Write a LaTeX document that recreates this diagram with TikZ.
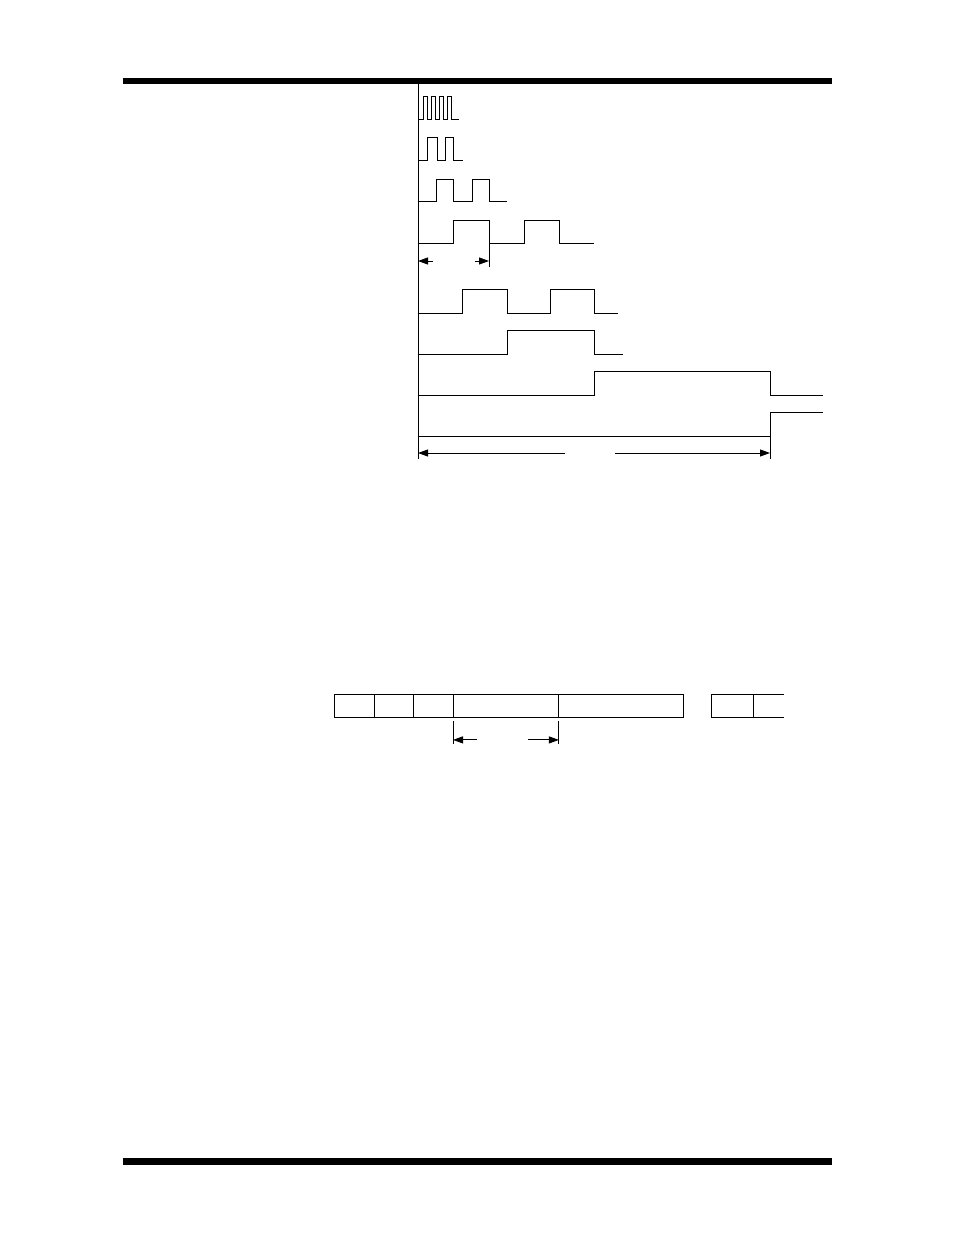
\documentclass[tikz,border=0pt]{standalone}
\usetikzlibrary{arrows.meta,calc}

\begin{document}
\begin{tikzpicture}[x=1pt,y=-1pt,line width=0.9pt,
	dim/.style={-{Triangle[length=10pt,width=7pt]}},
	field/.style={shape=rectangle,draw,inner sep=0pt,minimum height=23pt,
	anchor=north west}]
	\useasboundingbox (0,0) rectangle (954,1235);

	% page rules
	\fill (122.5,77.5) rectangle (831.5,84);
	\fill (122.5,1158) rectangle (831.5,1164.5);

	% time axis
	\draw (418,84) -- (418,459);

	% the waveforms
	\draw (418,119) -| (423,96) -| (427,119) -| (431,96) -| (435,119)
		-| (439,96) -| (443,119) -| (447,96) -| (451,119) -- (459,119);
	\draw (418,160) -| (427,137) -| (437,160) -| (445,137) -| (453,160) -- (463,160);
	\draw (418,201) -| (436,179) -| (453,201) -| (472,179) -| (489,201) -- (507,201);
	\draw (418,243) -| (453,220) -| (489,243) -| (524,220) -| (559,243) -- (594,243);
	\draw (418,313) -| (462,289) -| (507,313) -| (550,289) -| (594,313) -- (618,313);
	\draw (418,354) -| (507,330) -| (594,354) -- (623,354);
	\draw (418,395) -| (594,371) -| (770,395) -- (823,395);
	\draw (418,436) -| (770,412) -- (823,412);

	% period marks
	\coordinate (p0) at (418,261);
	\coordinate (p1) at (489,261);
	\coordinate (q0) at (418,453);
	\coordinate (q1) at (770,453);
	\draw (489,243) -- (489,267);
	\draw (770,436) -- (770,459);
	\draw[dim] ($(p0)+(15,0)$) -- (p0);
	\draw[dim] ($(p1)-(14,0)$) -- (p1);
	\draw[dim] ($(q0)+(147,0)$) -- (q0);
	\draw[dim] ($(q1)-(155,0)$) -- (q1);

	% the frame fields
	\node[field,minimum width=40pt] (f1) at (334,694) {};
	\node[field,minimum width=39pt] (f2) at (374,694) {};
	\node[field,minimum width=40pt] (f3) at (413,694) {};
	\node[field,minimum width=105pt] (f4) at (453,694) {};
	\node[field,minimum width=125pt] (f5) at (558,694) {};
	\node[field,minimum width=42pt] (g1) at (711,694) {};
	\draw (g1.north east) -- ++(30,0);
	\draw (g1.south east) -- ++(30,0);

	% field width marks
	\coordinate (w0) at ($(f4.south west)+(0,22)$);
	\coordinate (w1) at ($(f4.south east)+(0,22)$);
	\draw ($(f4.south west)+(0,3)$) -- ++(0,23);
	\draw ($(f4.south east)+(0,3)$) -- ++(0,23);
	\draw[dim] ($(w0)+(24,0)$) -- (w0);
	\draw[dim] ($(w1)-(31,0)$) -- (w1);
\end{tikzpicture}
\end{document}
